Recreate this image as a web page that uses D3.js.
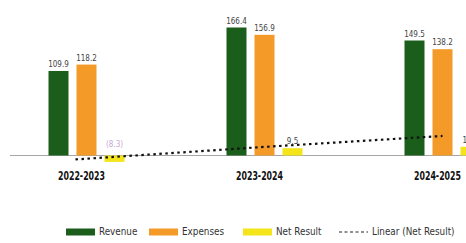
<!DOCTYPE html>
<html>
<head>
<meta charset="utf-8">
<script src="https://cdn.jsdelivr.net/npm/d3@7"></script>
<style>
  html, body { margin: 0; padding: 0; background: #fff; }
  svg { display: block; }
  text { font-family: "Liberation Sans Narrow", "DejaVu Sans Condensed", "Arial Narrow", sans-serif; font-stretch: condensed; }
  .val { font-size: 8px; fill: #444; }
  .cat { font-size: 11.5px; font-weight: bold; fill: #111; }
  .leg { font-size: 9.8px; fill: #333; }
</style>
</head>
<body>
<svg id="chart" width="466" height="243"></svg>
<script>
// data
const years = ["2022-2023", "2023-2024", "2024-2025"];
const seriesNames = ["Revenue", "Expenses", "Net Result"];
const revenue = [109.9, 166.4, 149.5];
const expenses = [118.2, 156.9, 138.2];
const netResult = [-8.3, 9.5, 11.3];
const trendNet = [-4.2, 11.2, 25.4]; // "Linear (Net Result)" as drawn

const colors = { "Revenue": "#1b5e1b", "Expenses": "#f39a28", "Net Result": "#f4e41a" };

const svg = d3.select("#chart");

const rows = years.map((y, i) => ({
    year: y,
    values: [revenue[i], expenses[i], netResult[i]]
}));

const x = d3.scalePoint().domain(years).range([86.5, 442.5]);
const xs = d3.scaleBand().domain(seriesNames).range([-38, 38]).paddingInner(0.2857);
const y = d3.scaleLinear().domain([0, 166.4]).range([155.5, 27.5]);

const fmt = v => v < 0 ? "(" + Math.abs(v).toFixed(1) + ")" : v.toFixed(1);

// baseline
svg.append("line")
    .attr("x1", 10).attr("x2", 466)
    .attr("y1", y(0)).attr("y2", y(0))
    .attr("stroke", "#a6a6a6").attr("stroke-width", 1);

const groups = svg.selectAll(".grp").data(rows).enter().append("g")
    .attr("class", "grp")
    .attr("transform", d => `translate(${x(d.year)},0)`);

const bars = groups.selectAll(".bar")
    .data(d => d.values.map((v, k) => ({ name: seriesNames[k], v })))
    .enter();

bars.append("rect")
    .attr("class", "bar")
    .attr("x", d => xs(d.name))
    .attr("width", xs.bandwidth())
    .attr("y", d => y(Math.max(0, d.v)))
    .attr("height", d => Math.abs(y(d.v) - y(0)))
    .attr("fill", d => colors[d.name]);

bars.append("text")
    .attr("class", "val")
    .attr("x", d => xs(d.name) + xs.bandwidth() / 2)
    .attr("y", d => y(Math.max(0, d.v)) - (d.v < 0 ? 9 : 4))
    .attr("text-anchor", "middle")
    .style("fill", d => d.v < 0 ? "#c7a9d6" : null)
    .text(d => fmt(d.v));

// category labels
svg.selectAll(".cat").data(years).enter().append("text")
    .attr("class", "cat")
    .attr("x", d => x(d) - 5)
    .attr("y", 180)
    .attr("text-anchor", "middle")
    .attr("textLength", 47)
    .attr("lengthAdjust", "spacingAndGlyphs")
    .text(d => d);

// linear trend of net result
const trendLine = d3.line()
    .x((d, i) => x(years[i]))
    .y(d => y(d));

// extend the trend a little to the left, as in the original
const step = x.step();
const slopePerPx = (trendNet[2] - trendNet[0]) / (2 * step);
const ext = [[x(years[0]) - 11, trendNet[0] - 11 * slopePerPx]];

svg.append("path")
    .attr("d", d3.line().x(d => d[0]).y(d => y(d[1]))(
        ext.concat(trendNet.map((v, i) => [x(years[i]), v]))))
    .attr("fill", "none")
    .attr("stroke", "#111")
    .attr("stroke-width", 2.2)
    .attr("stroke-dasharray", "2.5,3.5");

// legend
const legY = 232;
const legendItems = [
    { label: "Revenue", x: 66, type: "rect", color: colors["Revenue"] },
    { label: "Expenses", x: 149, type: "rect", color: colors["Expenses"] },
    { label: "Net Result", x: 243, type: "rect", color: colors["Net Result"] },
    { label: "Linear (Net Result)", x: 339, type: "line", color: "#222" }
];

const leg = svg.selectAll(".legItem").data(legendItems).enter().append("g")
    .attr("class", "legItem")
    .attr("transform", d => `translate(${d.x},${legY})`);

leg.filter(d => d.type === "rect").append("rect")
    .attr("x", 0).attr("y", -3.5)
    .attr("width", 29).attr("height", 7)
    .attr("fill", d => d.color);

leg.filter(d => d.type === "line").append("line")
    .attr("x1", 0).attr("x2", 29)
    .attr("y1", 0).attr("y2", 0)
    .attr("stroke", d => d.color)
    .attr("stroke-width", 1.2)
    .attr("stroke-dasharray", "3,2.5");

leg.append("text")
    .attr("class", "leg")
    .attr("x", 33)
    .attr("y", 3.4)
    .text(d => d.label);
</script>
</body>
</html>
